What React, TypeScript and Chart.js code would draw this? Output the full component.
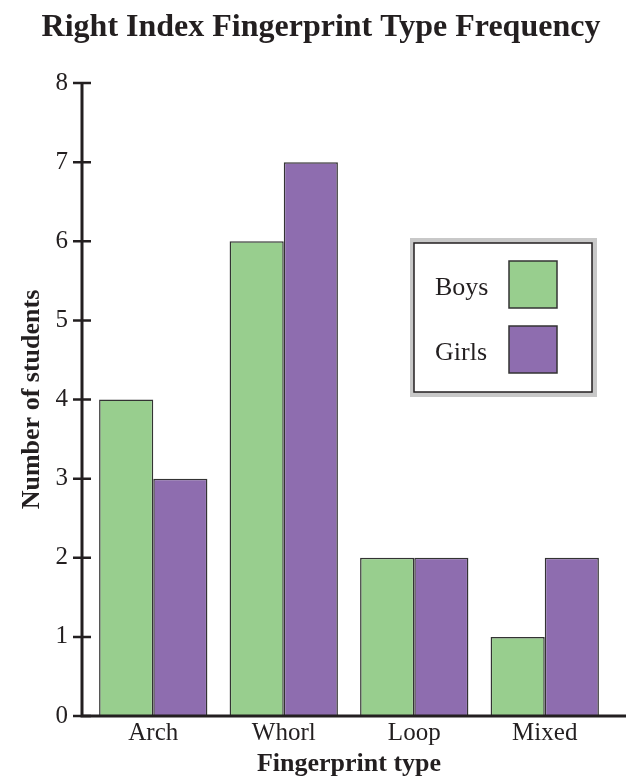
import React, { useEffect, useRef } from "react";
import { Chart, registerables } from "chart.js";

Chart.register(...registerables);

const titleText = "Right Index Fingerprint Type Frequency";
const xAxisTitle = "Fingerprint type";
const yAxisTitle = "Number of students";
const categories = ["Arch", "Whorl", "Loop", "Mixed"];
const seriesLabels = ["Boys", "Girls"];
const boysValues = [4, 6, 2, 1];
const girlsValues = [3, 7, 2, 2];
const yMin = 0;
const yMax = 8;
const yStep = 1;

const INK = "#231f20";
const SERIF = "'Liberation Serif', 'Times New Roman', serif";

const axesPlugin = {
  id: "customAxes",
  afterDatasetsDraw(chart: any) {
    const { ctx, chartArea } = chart;
    const ys = chart.scales.y;
    const ax = chartArea.left - 6;
    const y0 = ys.getPixelForValue(ys.min);
    const yTop = ys.getPixelForValue(ys.max);
    ctx.save();
    ctx.strokeStyle = INK;
    ctx.lineCap = "butt";
    ctx.lineJoin = "miter";
    ctx.lineWidth = 3;
    ctx.beginPath();
    ctx.moveTo(ax, yTop);
    ctx.lineTo(ax, y0);
    ctx.lineTo(chart.width, y0);
    ctx.stroke();
    ctx.lineWidth = 2.5;
    ctx.beginPath();
    ys.ticks.forEach((t: any) => {
      const py = ys.getPixelForValue(t.value);
      ctx.moveTo(ax - 9, py);
      ctx.lineTo(ax + 9, py);
    });
    ctx.stroke();
    ctx.restore();
  },
};

const legendPlugin = {
  id: "boxLegend",
  afterDraw(chart: any) {
    const { ctx, chartArea } = chart;
    const left = chartArea.right - 196;
    const top = chartArea.top + 160;
    const w = 178;
    const h = 149;
    ctx.save();
    ctx.fillStyle = "#c8c8c8";
    ctx.fillRect(left - 4, top - 5, w + 9, h + 10);
    ctx.fillStyle = "#ffffff";
    ctx.fillRect(left, top, w, h);
    ctx.strokeStyle = INK;
    ctx.lineWidth = 1.5;
    ctx.strokeRect(left, top, w, h);
    ctx.font = `26px ${SERIF}`;
    ctx.textBaseline = "middle";
    ctx.textAlign = "left";
    chart.data.datasets.forEach((ds: any, i: number) => {
      const rowTop = top + 18 + i * 65;
      ctx.fillStyle = INK;
      ctx.fillText(ds.label, left + 21, rowTop + 27);
      ctx.fillStyle = ds.backgroundColor;
      ctx.fillRect(left + 95, rowTop, 48, 47);
      ctx.strokeStyle = "#333333";
      ctx.lineWidth = 1.5;
      ctx.strokeRect(left + 95, rowTop, 48, 47);
    });
    ctx.restore();
  },
};

export default function App() {
  const ref = useRef<HTMLCanvasElement | null>(null);
  useEffect(() => {
    if (!ref.current) return;
    const chart = new Chart(ref.current, {
      type: "bar",
      data: {
        labels: categories,
        datasets: [
          {
            label: seriesLabels[0],
            data: boysValues,
            backgroundColor: "#98ce8e",
            borderColor: "#333333",
            borderWidth: 1.5,
            categoryPercentage: 0.83,
            barPercentage: 1,
          },
          {
            label: seriesLabels[1],
            data: girlsValues,
            backgroundColor: "#8e6daf",
            borderColor: "#333333",
            borderWidth: 1.5,
            categoryPercentage: 0.83,
            barPercentage: 1,
          },
        ],
      },
      options: {
        responsive: false,
        animation: false,
        layout: { padding: { left: 16, right: 0, top: 0, bottom: 0 } },
        plugins: {
          legend: { display: false },
          tooltip: { enabled: false },
          title: {
            display: true,
            text: titleText,
            color: INK,
            font: { family: SERIF, size: 32, weight: "bold" },
            padding: { top: 9, bottom: 35.6 },
          },
        },
        scales: {
          x: {
            grid: { display: false, drawTicks: false },
            border: { display: false },
            ticks: {
              color: INK,
              font: { family: SERIF, size: 25 },
              padding: 2,
            },
            title: {
              display: true,
              text: xAxisTitle,
              color: INK,
              font: { family: SERIF, size: 26, weight: "bold", lineHeight: 1.1 },
              padding: { top: 0, bottom: 0 },
            },
            afterFit(scale: any) {
              scale.height = 63;
            },
          },
          y: {
            min: yMin,
            max: yMax,
            grid: { display: false, drawTicks: false },
            border: { display: false },
            ticks: {
              stepSize: yStep,
              color: INK,
              font: { family: SERIF, size: 25 },
              padding: 20,
            },
            title: {
              display: true,
              text: yAxisTitle,
              color: INK,
              font: { family: SERIF, size: 26, weight: "bold" },
              padding: { top: 1, bottom: 0 },
            },
            afterFit(scale: any) {
              scale.width = 72;
            },
          },
          yRight: {
            position: "right",
            display: true,
            grid: { display: false, drawTicks: false },
            border: { display: false },
            ticks: { display: false },
            afterFit(scale: any) {
              scale.width = 16;
            },
          },
        },
      },
      plugins: [axesPlugin, legendPlugin],
    });
    return () => chart.destroy();
  }, []);
  return (
    <div style={{ position: "fixed", left: 0, top: 0, width: 626, height: 779, background: "#fff" }}>
      <canvas ref={ref} width={626} height={779} />
    </div>
  );
}
